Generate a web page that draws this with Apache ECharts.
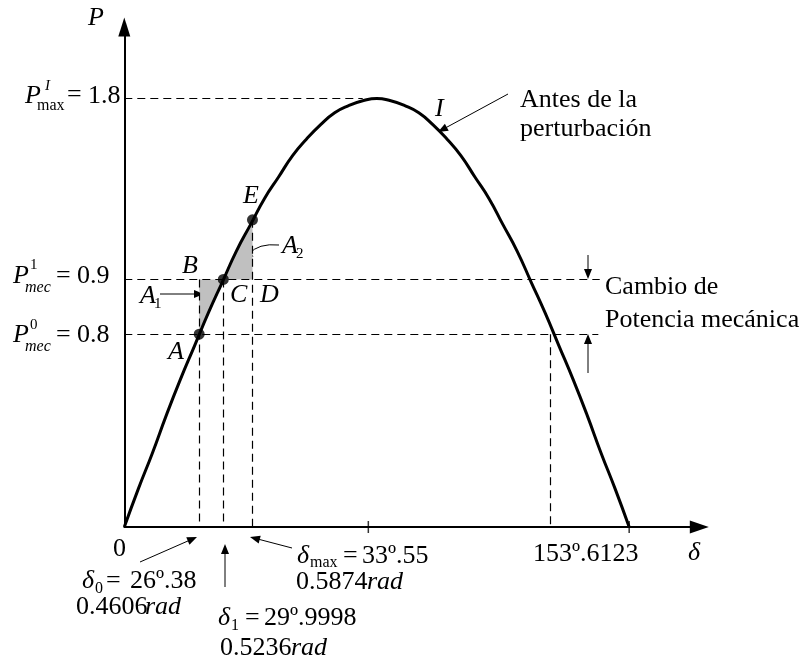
<!DOCTYPE html>
<html>
<head>
<meta charset="utf-8">
<script src="https://cdn.jsdelivr.net/npm/echarts@6/dist/echarts.min.js"></script>
<style>
  html, body { margin: 0; padding: 0; background: #fff; }
  #main { width: 801px; height: 664px; }
</style>
</head>
<body>
<div id="main"></div>
<script>
// power-angle curve, read every 5 degrees
const deltaDeg = [0, 5, 10, 15, 20, 25, 30, 35, 40, 45, 50, 55, 60, 65, 70, 75, 80, 85, 90,
  95, 100, 105, 110, 115, 120, 125, 130, 135, 140, 145, 150, 155, 160, 165, 170, 175, 180];
const powerPu = [0, 0.16, 0.31, 0.47, 0.62, 0.76, 0.9, 1.03, 1.16, 1.27, 1.38, 1.47, 1.56, 1.63, 1.69, 1.74, 1.77, 1.79, 1.8,
  1.79, 1.77, 1.74, 1.69, 1.63, 1.56, 1.47, 1.38, 1.27, 1.16, 1.03, 0.9, 0.76, 0.62, 0.47, 0.31, 0.16, 0];

// horizontal levels as drawn (the 0.9 line sits a bit high in the sketch)
const levelMax = 1.8;
const levelMec1 = 1.04;
const levelMec0 = 0.81;

// marked points A, C, E
const markDeg = [26.7, 35.3, 45.7];
const markPu = [0.81, 1.04, 1.29];

const crossDeg = 152;      // second crossing of the 0.8 line
const tickDeg = [87, 180];

const shadeA1 = [[26.7, 0.81], [26.7, 1.04], [35.3, 1.04]];
const shadeA2 = [[35.3, 1.04], [45.7, 1.29], [45.7, 1.04]];

const guides = [
  [[0, levelMax], [85, levelMax]],
  [[0, levelMec1], [169.5, levelMec1]],
  [[0, levelMec0], [169, levelMec0]],
  [[markDeg[0], levelMec1], [markDeg[0], 0]],
  [[markDeg[1], levelMec1], [markDeg[1], 0]],
  [[markDeg[2], markPu[2]], [markDeg[2], 0]],
  [[crossDeg, levelMec0], [crossDeg, 0]]
];

const FONT = '"Liberation Serif", "DejaVu Serif", serif';

function t(x, y, text, size, italic) {
  return {
    type: 'text', x: x, y: y, silent: true,
    style: {
      text: text,
      font: (italic ? 'italic ' : '') + size + 'px ' + FONT,
      fill: '#000',
      align: 'left', verticalAlign: 'middle',
      textAlign: 'left', textVerticalAlign: 'middle'
    }
  };
}

function head(x2, y2, a, len, half) {
  const bx = x2 - len * Math.cos(a), by = y2 - len * Math.sin(a);
  return {
    type: 'polygon', silent: true,
    shape: { points: [[x2, y2], [bx - half * Math.sin(a), by + half * Math.cos(a)], [bx + half * Math.sin(a), by - half * Math.cos(a)]] },
    style: { fill: '#000' }
  };
}

function arrow(x1, y1, x2, y2) {
  const a = Math.atan2(y2 - y1, x2 - x1);
  return [
    { type: 'line', silent: true, shape: { x1: x1, y1: y1, x2: x2 - 8 * Math.cos(a), y2: y2 - 8 * Math.sin(a) }, style: { stroke: '#000', lineWidth: 1 } },
    head(x2, y2, a, 10, 4)
  ];
}

let texts = [
  t(88, 18, 'P', 26, true),
  // P^I_max = 1.8
  t(25, 96, 'P', 26, true), t(45, 86, 'I', 15, true), t(37, 106, 'max', 16, false),
  t(67, 95, '=', 26, false), t(88, 96, '1.8', 26, false),
  // P^1_mec = 0.9
  t(13, 276, 'P', 26, true), t(30, 265, '1', 15, false), t(25, 288, 'mec', 16, true),
  t(56, 276, '=', 26, false), t(77, 276, '0.9', 26, false),
  // P^0_mec = 0.8
  t(13, 335, 'P', 26, true), t(30, 325, '0', 15, false), t(25, 347, 'mec', 16, true),
  t(56, 335, '=', 26, false), t(77, 335, '0.8', 26, false),
  // points and areas
  t(243, 196, 'E', 26, true), t(182, 266, 'B', 26, true), t(230, 295, 'C', 26, true),
  t(260, 295, 'D', 26, true), t(168, 352, 'A', 26, true),
  t(140, 296, 'A', 26, true), t(154, 304, '1', 15, false),
  t(282, 246, 'A', 26, true), t(296, 254, '2', 15, false),
  t(435, 109, 'I', 26, true),
  t(520, 100, 'Antes de la', 26, false), t(520, 129, 'perturbación', 26, false),
  t(605, 287, 'Cambio de', 26, false), t(605, 320, 'Potencia mecánica', 26, false),
  // bottom labels
  t(113, 549, '0', 26, false),
  t(82, 581, 'δ', 26, true), t(95, 589, '0', 16, false), t(106, 581, '=', 26, false), t(130, 581, '26º.38', 26, false),
  t(76, 607, '0.4606', 26, false), t(145, 607, 'rad', 26, true),
  t(218, 618, 'δ', 26, true), t(231, 626, '1', 16, false), t(245, 618, '=', 26, false), t(264, 618, '29º.9998', 26, false),
  t(220, 648, '0.5236', 26, false), t(291, 648, 'rad', 26, true),
  t(297, 556, 'δ', 26, true), t(310, 563, 'max', 16, false), t(343, 556, '=', 26, false), t(362, 556, '33º.55', 26, false),
  t(296, 582, '0.5874', 26, false), t(367, 582, 'rad', 26, true),
  t(533, 554, '153º.6123', 26, false),
  t(688, 553, 'δ', 26, true)
];

let arrows = [].concat(
  arrow(140, 562, 197, 537),
  arrow(225, 587, 225, 544),
  arrow(292, 548, 250, 537),
  arrow(508, 94, 438, 132),
  arrow(160, 294, 204, 294),
  arrow(588, 255, 588, 279),
  arrow(588, 373, 588, 334)
);
// curved arrow for A2
arrows.push({
  type: 'bezierCurve', silent: true,
  shape: { x1: 279, y1: 245, cpx1: 258, cpy1: 243, x2: 249, y2: 254 },
  style: { stroke: '#000', lineWidth: 1, fill: null }
});
arrows.push(head(243, 259, Math.atan2(259 - 250, 243 - 256), 10, 4));

let instance = echarts.init(document.getElementById('main'));
instance.setOption({
  animation: false,
  backgroundColor: '#fff',
  grid: { left: 124.3, top: 27, width: 575, height: 500, outerBoundsMode: 'none', containLabel: false },
  xAxis: {
    type: 'value', min: 0, max: 205,
    axisLine: { show: true, symbol: ['none', 'triangle'], symbolSize: [13, 19], lineStyle: { color: '#000', width: 2 } },
    axisTick: { show: false }, axisLabel: { show: false }, splitLine: { show: false }
  },
  yAxis: {
    type: 'value', min: 0, max: 2.1,
    axisLine: { show: true, symbol: ['none', 'triangle'], symbolSize: [12, 19], lineStyle: { color: '#000', width: 2 } },
    axisTick: { show: false }, axisLabel: { show: false }, splitLine: { show: false }
  },
  series: [
    {
      type: 'custom',
      silent: true,
      z: 1,
      data: [[0, 0], [1, 0]],
      renderItem: function (params, api) {
        const poly = [shadeA1, shadeA2][params.dataIndex];
        return {
          type: 'polygon',
          shape: { points: poly.map(function (p) { return api.coord(p); }) },
          style: { fill: '#c0c0c0' }
        };
      }
    },
    {
      type: 'lines',
      coordinateSystem: 'cartesian2d',
      silent: true,
      z: 2,
      lineStyle: { color: '#000', width: 1.2, type: [8, 5], opacity: 1 },
      data: guides.map(function (g) { return { coords: g }; })
    },
    {
      type: 'line',
      z: 5,
      smooth: true,
      showSymbol: false,
      lineStyle: { color: '#000', width: 3 },
      data: deltaDeg.map(function (d, i) { return [d, powerPu[i]]; })
    },
    {
      type: 'scatter',
      z: 6,
      symbolSize: 11,
      itemStyle: { color: '#000' },
      data: markDeg.map(function (d, i) { return [d, markPu[i]]; })
    },
    {
      type: 'scatter',
      z: 6,
      symbol: 'rect',
      symbolSize: [1.5, 12],
      itemStyle: { color: '#000' },
      data: tickDeg.map(function (d) { return [d, 0]; })
    }
  ],
  graphic: { elements: texts.concat(arrows) }
});
window.onresize = () => {
  instance.resize();
};
</script>
</body>
</html>
